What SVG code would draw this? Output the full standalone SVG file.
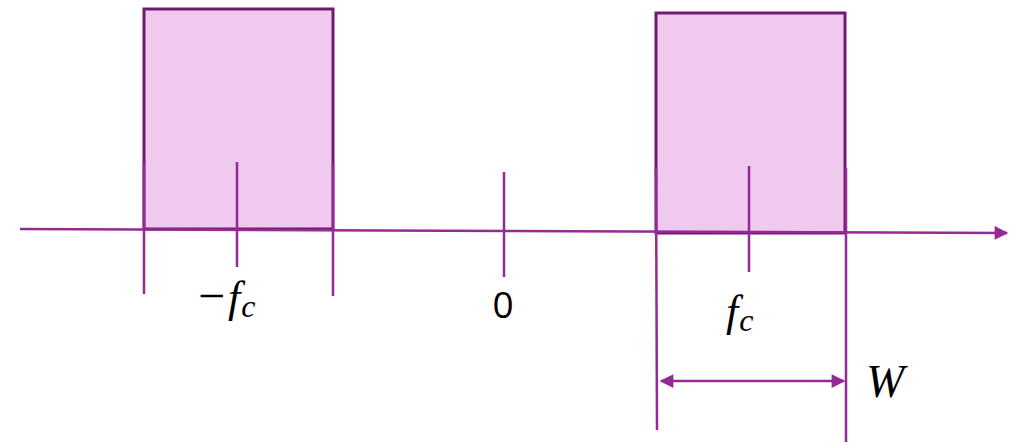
<svg xmlns="http://www.w3.org/2000/svg" width="1015" height="443" viewBox="0 0 1015 443">
<style>
.band{fill:#f0caee;stroke:#6e1b6e;stroke-width:3}
.tick{stroke:#952995;stroke-width:2.5;fill:none}
.m{font-family:"Liberation Serif","DejaVu Serif",serif;font-style:italic;fill:#000}
.n{font-family:"Open Sans","Liberation Sans",sans-serif;fill:#000}
</style>
<defs>
<marker id="ah" viewBox="0 0 10 10" refX="9" refY="5" markerWidth="6" markerHeight="5.5" markerUnits="strokeWidth" orient="auto-start-reverse">
<path d="M0,0 L10,5 L0,10 z" fill="#952995"/>
</marker>
</defs>
<g id="band-neg">
<rect class="band" x="144" y="9" width="189" height="220"/>
</g>
<g id="band-pos">
<rect class="band" x="656" y="13" width="189" height="220"/>
</g>
<g id="connectors">
<line class="tick" x1="20" y1="229" x2="1007" y2="233" marker-end="url(#ah)"/>
<line class="tick" x1="144" y1="162" x2="144" y2="294"/>
<line class="tick" x1="333" y1="164" x2="333" y2="296"/>
<line class="tick" x1="237" y1="162" x2="237" y2="267"/>
<line class="tick" x1="504" y1="172" x2="504" y2="277"/>
<line class="tick" x1="656" y1="168" x2="657" y2="430"/>
<line class="tick" x1="846" y1="168" x2="846" y2="442"/>
<line class="tick" x1="749" y1="166" x2="749" y2="272"/>
<line class="tick" x1="661" y1="381" x2="844" y2="381" marker-start="url(#ah)" marker-end="url(#ah)"/>
</g>
<g id="labels">
<text class="m" x="198" y="312" font-size="44"><tspan font-style="normal" font-size="48">−</tspan><tspan dx="3">f</tspan><tspan font-size="32" dy="5" dx="1">c</tspan></text>
<text class="n" x="503" y="318" font-size="37" text-anchor="middle">0</text>
<text class="m" x="726" y="326" font-size="44">f<tspan font-size="32" dy="5" dx="1">c</tspan></text>
<text class="m" x="866" y="397" font-size="46">W</text>
</g>
</svg>
